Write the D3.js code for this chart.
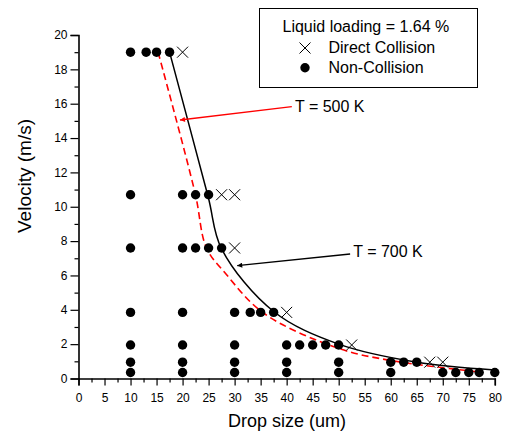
<!DOCTYPE html>
<html><head><meta charset="utf-8">
<script src="https://cdn.jsdelivr.net/npm/d3@7"></script>
<style>body{margin:0;background:#fff}svg{display:block}text{font-family:"Liberation Sans",Arial,sans-serif;fill:#000}</style>
</head><body><svg id="c" width="507" height="433"></svg>
<script>
// ---- data ----
const xTickValues = [0,5,10,15,20,25,30,35,40,45,50,55,60,65,70,75,80];
const xMinorValues = [2.5,7.5,12.5,17.5,22.5,27.5,32.5,37.5,42.5,47.5,52.5,57.5,62.5,67.5,72.5,77.5];
const yTickValues = [0,2,4,6,8,10,12,14,16,18,20];
const yMinorValues = [1,3,5,7,9,11,13,15,17,19];

const velocityLevels = [19, 10.7, 7.6, 3.85, 1.95, 0.95, 0.35];
const nonCollisionSizes = [
  [10,13,15,17.5],
  [10,20,22.5,25],
  [10,20,22.5,25,27.5],
  [10,20,30,33,35,37.5],
  [10,20,30,40,42.5,45,47.5,50],
  [10,20,30,40,50,60,62.5,65],
  [10,20,30,40,50,60,70,72.5,75,77,80]
];
const directCollisionSizes = [
  [20],
  [27.5,30],
  [30],
  [40],
  [52.5],
  [67.5,70],
  []
];

// boundary curves
const t700Size = [17.5,24.9,27.5,37.5,50,65,80];
const t700Vel  = [19,10.6,7.55,3.9,2.0,0.95,0.5];
const t500Size = [15.3,22.4,24.6,28.3,35.6,50,60,77.4];
const t500Vel  = [19,10.8,7.6,6.1,3.8,1.75,1.05,0.37];

const legendTitle = "Liquid loading = 1.64 %";
const legendLabels = ["Direct Collision","Non-Collision"];
const xTitle = "Drop size (um)";
const yTitle = "Velocity (m/s)";
const label500 = "T = 500 K";
const label700 = "T = 700 K";

// ---- chart ----
const svg = d3.select("#c");
const x = d3.scaleLinear().domain([0,80]).range([78.5,494.8]);
const y = d3.scaleLinear().domain([0,20]).range([378.5,35]);
const font = '"Liberation Sans",Arial,sans-serif';

const defs = svg.append("defs");
[["arrRed","#ff0000"],["arrBlk","#000"]].forEach(([id,c])=>{
  defs.append("marker").attr("id",id).attr("viewBox","0 0 10 10").attr("refX",10).attr("refY",5)
    .attr("markerWidth",7).attr("markerHeight",5).attr("markerUnits","userSpaceOnUse").attr("orient","auto")
    .append("path").attr("d","M0,0L10,5L0,10z").attr("fill",c);
});

// axes
const gx = svg.append("g").attr("transform",`translate(0,${y(0)})`);
gx.call(d3.axisBottom(x).tickValues(xTickValues).tickSize(7).tickPadding(8).tickFormat(d3.format("d")));
const gxm = svg.append("g").attr("transform",`translate(0,${y(0)})`);
gxm.call(d3.axisBottom(x).tickValues(xMinorValues).tickSize(4).tickFormat(""));
gxm.select(".domain").remove();

const gy = svg.append("g").attr("transform",`translate(${x(0)},0)`);
gy.call(d3.axisLeft(y).tickValues(yTickValues).tickSize(8).tickPadding(3).tickFormat(d3.format("d")));
const gym = svg.append("g").attr("transform",`translate(${x(0)},0)`);
gym.call(d3.axisLeft(y).tickValues(yMinorValues).tickSize(4).tickFormat(""));
gym.select(".domain").remove();

svg.selectAll(".domain").attr("stroke","#000").attr("stroke-width",1.6);
svg.selectAll(".tick line").attr("stroke","#000").attr("stroke-width",1.2);
svg.selectAll(".tick text").attr("font-size",12).attr("font-family",font).attr("fill","#000");

// axis titles
svg.append("text").attr("x",287).attr("y",427).attr("text-anchor","middle").attr("font-size",18).text(xTitle);
svg.append("text").attr("transform","translate(31,176) rotate(-90)").attr("text-anchor","middle").attr("font-size",19).text(yTitle);

// curves
const line = d3.line().x(d=>x(d[0])).y(d=>y(d[1])).curve(d3.curveCatmullRom.alpha(0.5));
svg.append("path").datum(t500Size.map((s,i)=>[s,t500Vel[i]])).attr("d",line)
  .attr("fill","none").attr("stroke","#ff0000").attr("stroke-width",1.6).attr("stroke-dasharray","7,4");
svg.append("path").datum(t700Size.map((s,i)=>[s,t700Vel[i]])).attr("d",line)
  .attr("fill","none").attr("stroke","#000").attr("stroke-width",1.5);

// points
const dots = [];
velocityLevels.forEach((v,i)=>nonCollisionSizes[i].forEach(s=>dots.push([s,v])));
const crosses = [];
velocityLevels.forEach((v,i)=>directCollisionSizes[i].forEach(s=>crosses.push([s,v])));

svg.append("g").selectAll("circle").data(dots).join("circle")
  .attr("cx",d=>x(d[0])).attr("cy",d=>y(d[1])).attr("r",4.7).attr("fill","#000");
const cs = 5.5;
svg.append("g").selectAll("path").data(crosses).join("path")
  .attr("d",d=>{const cx=x(d[0]),cy=y(d[1]);return `M${cx-cs},${cy-cs}L${cx+cs},${cy+cs}M${cx-cs},${cy+cs}L${cx+cs},${cy-cs}`;})
  .attr("stroke","#000").attr("stroke-width",1).attr("fill","none");

// annotations
svg.append("line").attr("x1",x(41.0)).attr("y1",y(15.83)).attr("x2",x(19.5)).attr("y2",y(15.05))
  .attr("stroke","#ff0000").attr("stroke-width",1.5).attr("marker-end","url(#arrRed)");
svg.append("text").attr("x",x(41.6)).attr("y",y(15.86)).attr("dy","0.35em").attr("font-size",16).text(label500);
svg.append("line").attr("x1",x(52.2)).attr("y1",y(7.25)).attr("x2",x(30.5)).attr("y2",y(6.57))
  .attr("stroke","#000").attr("stroke-width",1.3).attr("marker-end","url(#arrBlk)");
svg.append("text").attr("x",x(52.8)).attr("y",y(7.42)).attr("dy","0.35em").attr("font-size",16).text(label700);

// legend
const lg = svg.append("g");
lg.append("rect").attr("x",259.5).attr("y",8.5).attr("width",218).attr("height",79).attr("fill","#fff").attr("stroke","#000").attr("stroke-width",1);
lg.append("text").attr("x",282.5).attr("y",32.3).attr("font-size",16).text(legendTitle);
lg.append("path").attr("d",`M${305-cs},${48-cs}L${305+cs},${48+cs}M${305-cs},${48+cs}L${305+cs},${48-cs}`).attr("stroke","#000").attr("stroke-width",1);
lg.append("text").attr("x",328.5).attr("y",53.3).attr("font-size",16).text(legendLabels[0]);
lg.append("circle").attr("cx",305).attr("cy",67.7).attr("r",4.7).attr("fill","#000");
lg.append("text").attr("x",328.5).attr("y",72.7).attr("font-size",16).text(legendLabels[1]);
</script></body></html>
